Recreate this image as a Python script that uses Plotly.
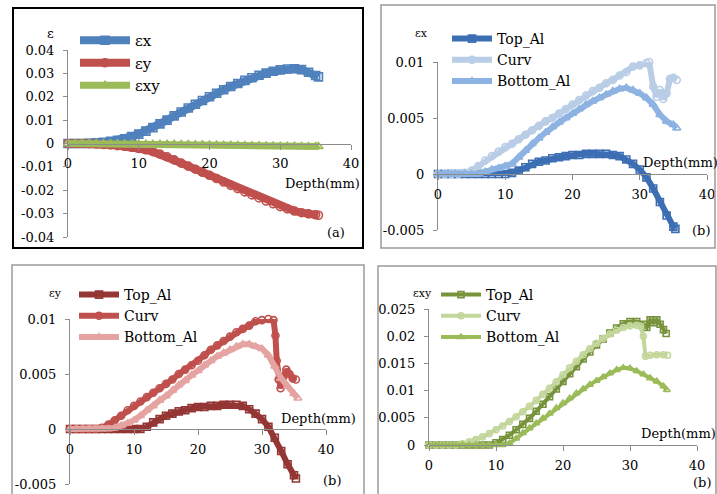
import plotly.graph_objects as go

W, H = 717, 494

# ---------------- data ----------------
a_x = [0,1,2,3,4,5,6,7,8,9,10,11,12,13,14,15,16,17,18,19,20,21,22,23,24,25,26,27,28,29,30,31,32,33,34,35,35.4]
a_ex = [0,0,0,0.0001,0.0003,0.0005,0.0009,0.0014,0.002,0.003,0.004,0.0053,0.0068,0.0084,0.0100,0.0118,0.0135,0.0152,0.0168,0.0184,0.0200,0.0215,0.0230,0.0244,0.0257,0.0270,0.0281,0.0292,0.0301,0.0309,0.0315,0.0319,0.0320,0.0316,0.0305,0.0291,0.0285]
a_ey = [0,0,0,-0.0001,-0.0002,-0.0004,-0.0006,-0.0009,-0.0012,-0.0016,-0.0021,-0.0027,-0.0035,-0.0045,-0.0057,-0.007,-0.0084,-0.0097,-0.011,-0.0123,-0.0136,-0.015,-0.0165,-0.0179,-0.0193,-0.0207,-0.022,-0.0233,-0.0246,-0.0258,-0.027,-0.028,-0.0289,-0.0296,-0.0301,-0.0305,-0.0307]
a_exy = [0,0,0,0,0,-0.0001,-0.0001,-0.0001,-0.0002,-0.0002,-0.0002,-0.0003,-0.0003,-0.0003,-0.0004,-0.0004,-0.0005,-0.0005,-0.0006,-0.0006,-0.0007,-0.0007,-0.0008,-0.0008,-0.0009,-0.0009,-0.001,-0.001,-0.0011,-0.0011,-0.0012,-0.0012,-0.0012,-0.0013,-0.0013,-0.0013,-0.0013]

bx_top_x = [0,1,2,3,4,5,6,7,8,9,10,11,12,13,14,15,16,17,18,19,20,21,22,23,24,25,26,27,28,29,30,31,32,33,34,35,35.3]
bx_top_y = [0,0,0,0,0,0,0,0,0,0,0,0.0001,0.0003,0.0006,0.0009,0.0011,0.0012,0.0014,0.0015,0.0016,0.0017,0.0017,0.0018,0.0018,0.0018,0.0018,0.0017,0.0016,0.0013,0.0009,0.0004,-0.0003,-0.0013,-0.0025,-0.0037,-0.0047,-0.0049]
bx_curv_x = [0,1,2,3,4,5,6,7,8,9,10,11,12,13,14,15,16,17,18,19,20,21,22,23,24,25,26,27,28,29,30,31,31.4,32,32.5,33,33.5,34,34.5,35,35.5]
bx_curv_y = [0,0,0,0,0.0001,0.0003,0.0007,0.0012,0.0016,0.0020,0.0024,0.0027,0.0031,0.0035,0.0039,0.0043,0.0047,0.0050,0.0054,0.0058,0.0062,0.0066,0.0070,0.0074,0.0077,0.0081,0.0084,0.0088,0.0091,0.0096,0.0097,0.0099,0.0100,0.0078,0.0069,0.0075,0.0067,0.0072,0.0085,0.0086,0.0084]
bx_bot_x = [0,1,2,3,4,5,6,7,8,9,10,11,12,13,14,15,16,17,18,19,20,21,22,23,24,25,26,27,28,29,30,31,32,33,34,35,35.5]
bx_bot_y = [0,0,0,0,0,0,0,0.0002,0.0004,0.0005,0.0007,0.0009,0.0015,0.0021,0.0027,0.0032,0.0037,0.0042,0.0046,0.0050,0.0054,0.0058,0.0062,0.0065,0.0068,0.0071,0.0074,0.0076,0.0077,0.0075,0.0072,0.0068,0.0062,0.0053,0.0047,0.0044,0.0041]

cy_top_x = [0,1,2,3,4,5,6,7,8,9,10,11,12,13,14,15,16,17,18,19,20,21,22,23,24,25,26,27,28,29,30,31,32,33,34,35,35.3]
cy_top_y = [0,0,0,0,0,0,0,0,0,0,0,0,0.0002,0.0006,0.0009,0.0012,0.0014,0.0016,0.0017,0.0019,0.0020,0.0020,0.0021,0.0021,0.0022,0.0022,0.0022,0.0021,0.0018,0.0014,0.0009,0.0002,-0.0008,-0.0020,-0.0032,-0.0042,-0.0045]
cy_curv_x = [0,1,2,3,4,5,6,7,8,9,10,11,12,13,14,15,16,17,18,19,20,21,22,23,24,25,26,27,28,29,30,31,31.8,32.1,32.3,32.6,32.9,33.3,33.8,34.3,34.8,35.3]
cy_curv_y = [0,0,0,0,0,0.0001,0.0004,0.0008,0.0012,0.0017,0.0021,0.0025,0.0029,0.0033,0.0037,0.0041,0.0045,0.0050,0.0054,0.0058,0.0062,0.0067,0.0072,0.0076,0.0080,0.0084,0.0088,0.0091,0.0094,0.0098,0.0099,0.0100,0.0099,0.0085,0.0062,0.0045,0.0037,0.0047,0.0054,0.0050,0.0046,0.0045]
cy_bot_x = [0,1,2,3,4,5,6,7,8,9,10,11,12,13,14,15,16,17,18,19,20,21,22,23,24,25,26,27,28,29,30,31,32,33,34,35,35.6]
cy_bot_y = [0,0,0,0,0,0,0,0.0001,0.0003,0.0005,0.0008,0.0012,0.0017,0.0021,0.0026,0.0030,0.0035,0.0040,0.0044,0.0049,0.0053,0.0058,0.0062,0.0066,0.0069,0.0072,0.0075,0.0077,0.0077,0.0075,0.0073,0.0067,0.0057,0.0046,0.0039,0.0032,0.0028]

dxy_top_x = [0,1,2,3,4,5,6,7,8,9,10,11,12,13,14,15,16,17,18,19,20,21,22,23,24,25,26,27,28,29,30,31,32,32.5,33,33.5,34,34.5,35,35.4]
dxy_top_y = [0,0,0,0,0,0,0,0,0,0,0.0004,0.001,0.0018,0.0028,0.0038,0.0049,0.0062,0.0075,0.0089,0.0103,0.0117,0.0131,0.0144,0.0158,0.0171,0.0184,0.0195,0.0206,0.0215,0.0223,0.0227,0.0227,0.0222,0.0216,0.0230,0.0225,0.0230,0.0222,0.0212,0.0205]
dxy_curv_x = [0,1,2,3,4,5,6,7,8,9,10,11,12,13,14,15,16,17,18,19,20,21,22,23,24,25,26,27,28,29,30,31,31.6,32.0,32.3,33,34,35,35.6]
dxy_curv_y = [0,0,0,0,0,0.0002,0.0006,0.001,0.0015,0.0021,0.0028,0.0035,0.0043,0.0052,0.0061,0.0071,0.0082,0.0093,0.0104,0.0116,0.0129,0.0142,0.0154,0.0166,0.0177,0.0187,0.0196,0.0204,0.0211,0.0216,0.0219,0.0220,0.0218,0.0200,0.0163,0.0165,0.0166,0.0166,0.0165]
dxy_bot_x = [0,1,2,3,4,5,6,7,8,9,10,11,12,13,14,15,16,17,18,19,20,21,22,23,24,25,26,27,28,29,30,31,32,33,34,35,35.5]
dxy_bot_y = [0,0,0,0,0,0,0,0,0,0,0,0,0.0003,0.0012,0.0022,0.0031,0.0040,0.0049,0.0058,0.0068,0.0077,0.0086,0.0095,0.0103,0.0111,0.0118,0.0125,0.0132,0.0138,0.0142,0.0141,0.0136,0.0130,0.0123,0.0117,0.0108,0.0101]

x_ticks = [0, 10, 20, 30, 40]
x_ticktext = ["0", "10", "20", "30", "40"]
a_yticks = [0.04, 0.03, 0.02, 0.01, 0, -0.01, -0.02, -0.03, -0.04]
a_yticktext = ["0.04", "0.03", "0.02", "0.01", "0", "-0.01", "-0.02", "-0.03", "-0.04"]
b_yticks = [0.01, 0.005, 0, -0.005]
b_yticktext = ["0.01", "0.005", "0", "-0.005"]
d_yticks = [0.025, 0.02, 0.015, 0.01, 0.005, 0]
d_yticktext = ["0.025", "0.02", "0.015", "0.01", "0.005", "0"]

series_names = ["Top_Al", "Curv", "Bottom_Al"]

def px(x):
    return x / W

def py(y):
    return 1 - y / H

SERIF = "DejaVu Serif"
AXC = "#8c8c8c"

fig = go.Figure()

def add(x, y, name, color, symbol, xa, ya, legend, lw=6, ms=7):
    fig.add_trace(go.Scatter(
        x=x, y=y, name=name, mode="lines+markers",
        line=dict(color=color, width=lw),
        marker=dict(symbol=symbol, size=ms, color=color, line=dict(color=color, width=1.6)),
        xaxis=xa, yaxis=ya, legend=legend, cliponaxis=False))

add(a_x, a_ex, "εx", "#4F81BD", "square-open", "x", "y", "legend", lw=8, ms=8)
add(a_x, a_ey, "εy", "#C0504D", "circle-open", "x", "y", "legend", lw=8, ms=8)
add(a_x, a_exy, "εxy", "#9BBB59", "triangle-up-open", "x", "y", "legend", lw=7, ms=8)
add(bx_top_x, bx_top_y, series_names[0], "#3C6EB4", "square-open", "x2", "y2", "legend2")
add(bx_curv_x, bx_curv_y, series_names[1], "#B9CDE7", "circle-open", "x2", "y2", "legend2")
add(bx_bot_x, bx_bot_y, series_names[2], "#8DB3E2", "triangle-up-open", "x2", "y2", "legend2")
add(cy_top_x, cy_top_y, series_names[0], "#943634", "square-open", "x3", "y3", "legend3")
add(cy_curv_x, cy_curv_y, series_names[1], "#C0504D", "circle-open", "x3", "y3", "legend3")
add(cy_bot_x, cy_bot_y, series_names[2], "#E5A3A2", "triangle-up-open", "x3", "y3", "legend3")
add(dxy_top_x, dxy_top_y, series_names[0], "#77933C", "square-open", "x4", "y4", "legend4", lw=4, ms=6)
add(dxy_curv_x, dxy_curv_y, series_names[1], "#C3D69B", "circle-open", "x4", "y4", "legend4", lw=4, ms=6)
add(dxy_bot_x, dxy_bot_y, series_names[2], "#9BBB59", "triangle-up-open", "x4", "y4", "legend4", lw=4, ms=6)

panels = {
    "1": dict(xd=(68, 351), yd=(50, 237), yr=[-0.04, 0.04], yt=a_yticks, ytt=a_yticktext),
    "2": dict(xd=(438, 707), yd=(62, 230), yr=[-0.005, 0.01], yt=b_yticks, ytt=b_yticktext),
    "3": dict(xd=(70, 326), yd=(319, 484), yr=[-0.005, 0.01], yt=b_yticks, ytt=b_yticktext),
    "4": dict(xd=(429, 697), yd=(309, 445), yr=[0, 0.025], yt=d_yticks, ytt=d_yticktext),
}
lay = {}
for k, p in panels.items():
    xs = "" if k == "1" else k
    ydom = [py(p["yd"][1]), py(p["yd"][0])]
    lo, hi = p["yr"]
    zero_pos = ydom[0] + (0 - lo) / (hi - lo) * (ydom[1] - ydom[0])
    lay["xaxis" + xs] = dict(
        domain=[px(p["xd"][0]), px(p["xd"][1])], range=[0, 40],
        anchor="free", position=zero_pos, automargin=False,
        tickvals=x_ticks, ticktext=x_ticktext,
        showline=True, linecolor=AXC, linewidth=1, ticks="outside", ticklen=5,
        tickcolor=AXC, showgrid=False, zeroline=False, ticklabelstandoff=3,
        tickfont=dict(family=SERIF, size=13, color="black"), fixedrange=True)
    lay["yaxis" + xs] = dict(
        domain=ydom, range=p["yr"], anchor="x" + xs, automargin=False,
        tickvals=p["yt"], ticktext=p["ytt"],
        showline=True, linecolor=AXC, linewidth=1, ticks="outside", ticklen=4,
        tickcolor=AXC, showgrid=False, zeroline=False, ticklabelstandoff=6,
        tickfont=dict(family=SERIF, size=13, color="black"), fixedrange=True)

fig.update_layout(**lay)

leg_common = dict(bgcolor="rgba(0,0,0,0)", xanchor="left", yanchor="top", itemwidth=40,
                  font=dict(family=SERIF, size=14, color="black"))
fig.update_layout(
    legend=dict(x=px(75), y=py(24), **{**leg_common, "itemwidth": 50,
                                        "font": dict(family=SERIF, size=15, color="black")}),
    legend2=dict(x=px(447), y=py(23), **leg_common),
    legend3=dict(x=px(74), y=py(279), **leg_common),
    legend4=dict(x=px(436), y=py(279), **leg_common),
)

shapes = [
    dict(type="rect", xref="paper", yref="paper", x0=px(13), x1=px(363), y0=py(248), y1=py(8),
         line=dict(color="black", width=2)),
    dict(type="rect", xref="paper", yref="paper", x0=px(381), x1=px(715), y0=py(248), y1=py(5),
         line=dict(color="#9a9a9a", width=1.5)),
    dict(type="rect", xref="paper", yref="paper", x0=px(12), x1=px(364), y0=py(500), y1=py(265),
         line=dict(color="#9a9a9a", width=1.5)),
    dict(type="rect", xref="paper", yref="paper", x0=px(378), x1=px(716), y0=py(500), y1=py(266),
         line=dict(color="#9a9a9a", width=1.5)),
]
fig.update_layout(shapes=shapes)

def ann(text, x, y, size=13):
    return dict(text=text, x=px(x), y=py(y), xref="paper", yref="paper", showarrow=False,
                xanchor="center", yanchor="middle", font=dict(family=SERIF, size=size, color="black"))

fig.update_layout(annotations=[
    ann("ε", 50, 33, 13),
    ann("εx", 421, 33, 11),
    ann("εy", 55, 293, 11),
    ann("εxy", 422, 293, 11),
    ann("Depth(mm)", 322, 183),
    ann("Depth(mm)", 680, 163),
    ann("Depth(mm)", 318, 418),
    ann("Depth(mm)", 678, 433),
    ann("(a)", 336, 232),
    ann("(b)", 701, 230),
    ann("(b)", 332, 480),
    ann("(b)", 702, 482),
])

fig.update_layout(width=W, height=H, margin=dict(l=0, r=0, t=0, b=0, autoexpand=False),
                  paper_bgcolor="white", plot_bgcolor="rgba(0,0,0,0)")

fig.write_html("out.html", config={"displayModeBar": False},
               post_script="document.body.style.margin='0px';")
